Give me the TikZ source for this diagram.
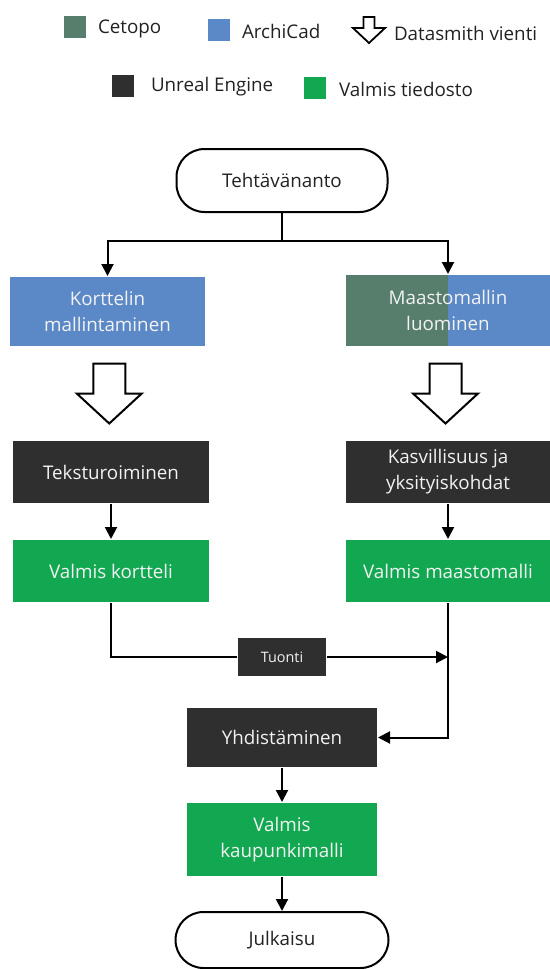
\documentclass[tikz,border=0pt]{standalone}
\usepackage{fontspec}
\setmainfont{Open Sans}
\usepackage{tikz}
\usetikzlibrary{arrows.meta,calc}
\definecolor{node_cetopo}{RGB}{87,125,108}
\definecolor{node_archi}{RGB}{91,137,200}
\definecolor{node_unreal}{RGB}{47,47,47}
\definecolor{node_valmis}{RGB}{18,168,82}
\definecolor{text_light}{RGB}{242,242,242}
\definecolor{text_dark}{RGB}{34,34,34}
\newcommand\vienti[2][1]{%
  \draw[hollow,shift={#2},scale=#1] (-16,0) -- (16,0) -- (16,30) -- (32.5,30)
    -- (0,60) -- (-32.5,30) -- (-16,30) -- cycle;}

\begin{document}
\begin{tikzpicture}[x=0.5pt,y=-0.5pt,>={Triangle[length=6pt,width=6pt]},line width=1pt]
    \tikzstyle{box}=[rectangle, inner sep=1pt, align=center, text=text_light, font=\fontsize{9.4}{13}\selectfont]
    \tikzstyle{archi}=[style=box, fill=node_archi]
    \tikzstyle{unreal}=[style=box, fill=node_unreal]
    \tikzstyle{valmis}=[style=box, fill=node_valmis]
    \tikzstyle{term}=[draw=black, line width=1pt, rounded corners=14pt, fill=white, text=text_dark, font=\fontsize{9.4}{13}\selectfont]
    \tikzstyle{swatch}=[rectangle, minimum size=11pt, inner sep=0pt]
    \tikzstyle{legend}=[anchor=west, inner sep=0pt, text=text_dark, font=\fontsize{9.4}{12}\selectfont]
    \tikzstyle{hollow}=[draw=black, line width=1pt, fill=white, line join=miter]

    \useasboundingbox (0,0) rectangle (550,969);

    % legend
    \node[swatch,fill=node_cetopo] (lcet) at (75,27)     {};
    \node[legend] (tcet) at (97,29)                      {Cetopo};
    \node[swatch,fill=node_archi]  (larch) at (218.5,29.5) {};
    \node[legend] (tarch) at (241,31)                    {ArchiCad};
    \coordinate (lvie) at (369,17);
    \node[legend] (tvie) at (393,33)                     {Datasmith vienti};
    \node[swatch,fill=node_unreal] (lue) at (123,85.5)   {};
    \node[legend] (tue) at (150,86.5)                    {Unreal Engine};
    \node[swatch,fill=node_valmis] (lval) at (315,87.5)  {};
    \node[legend] (tval) at (338,89)                     {Valmis tiedosto};
    \draw[hollow,line width=0.9pt,shift={(lvie)}] (-5.5,0) -- (5.5,0) -- (5.5,11) -- (16,11)
        -- (0,26) -- (-16,11) -- (-5.5,11) -- cycle;

    % flow
    \node[term, minimum width=105.5pt, minimum height=31.5pt] (teht) at (282,180.5) {Tehtävänanto};
    \node[archi, minimum width=97.5pt, minimum height=34.5pt] (kort) at (107.5,311.5) {Korttelin\\mallintaminen};
    \node[archi, minimum width=102pt, minimum height=35.5pt,
          path picture={\fill[node_cetopo] (path picture bounding box.south west)
          rectangle (path picture bounding box.north);}] (maasto) at (448,310.5) {Maastomallin\\luominen};
    \node[unreal, minimum width=98pt, minimum height=31pt]  (tekst) at (111,472)   {Teksturoiminen};
    \node[unreal, minimum width=102pt, minimum height=31pt] (kasv) at (448,472)    {Kasvillisuus ja\\yksityiskohdat};
    \node[valmis, minimum width=98pt, minimum height=31pt]  (vkort) at (111,571)   {Valmis kortteli};
    \node[valmis, minimum width=102pt, minimum height=31pt] (vmaa) at (448,571)    {Valmis maastomalli};
    \node[unreal, minimum width=44pt, minimum height=19pt, font=\fontsize{7.2}{9}\selectfont] (tuonti) at (282,657) {Tuonti};
    \node[unreal, minimum width=95pt, minimum height=29.5pt] (yhd) at (282,737.5)  {Yhdistäminen};
    \node[valmis, minimum width=95pt, minimum height=36.5pt] (vkau) at (282,839.5) {Valmis\\kaupunkimalli};
    \node[term, minimum width=106.5pt, minimum height=28pt] (julk) at (282,940)    {Julkaisu};

    \coordinate (fork) at (282,241);
    \coordinate (join) at (vmaa.south |- tuonti.east);

    \vienti{($(kort.south)!0.5!(tekst.north)-(0,30)$)}
    \vienti{($(maasto.south)!0.5!(kasv.north)-(2.5,30)$)}

    \draw (teht.south) -- (fork);
    \draw[->] (fork) -| (kort.north);
    \draw[->] (fork) -| (maasto.north);
    \path[->]
     (tekst) edge (vkort)
     (kasv)  edge (vmaa)
     (vkau)  edge (julk)
     (yhd)   edge (vkau)
     ;
    \draw (vkort.south) |- (tuonti.west);
    \draw[->] (tuonti.east) -- (join);
    \draw[->] (vmaa.south) |- (yhd.east);
\end{tikzpicture}
\end{document}
